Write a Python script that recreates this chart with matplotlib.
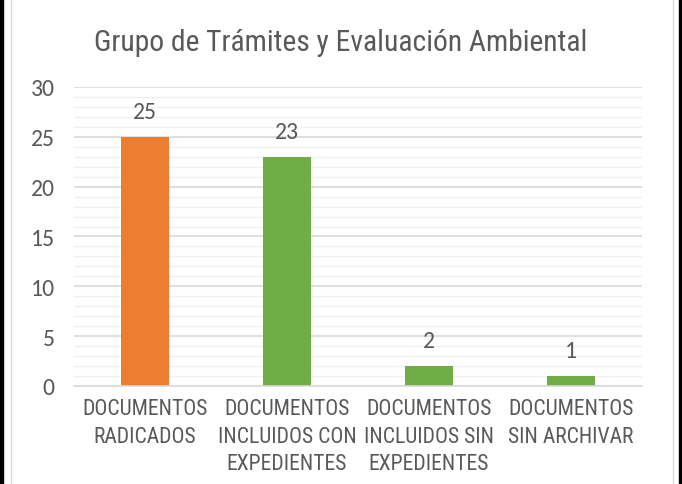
import matplotlib.pyplot as plt
from matplotlib.lines import Line2D
from matplotlib.patches import Rectangle
from matplotlib.ticker import MultipleLocator

categories = [
    "DOCUMENTOS\nRADICADOS",
    "DOCUMENTOS\nINCLUIDOS CON\nEXPEDIENTES",
    "DOCUMENTOS\nINCLUIDOS SIN\nEXPEDIENTES",
    "DOCUMENTOS\nSIN ARCHIVAR",
]
values = [25, 23, 2, 1]
colors = ["#ED7D31", "#70AD47", "#70AD47", "#70AD47"]

TEXT = "#595959"
NARROW = ["Roboto Condensed", "DejaVu Sans"]
NUMS = ["Carlito", "DejaVu Sans"]

fig = plt.figure(figsize=(6.82, 4.85), dpi=100)
ax = fig.add_axes([0.1085, 0.2021, 0.8325, 0.6165])

x = range(len(categories))
ax.bar(x, values, width=0.34, color=colors, zorder=3)
for xi, v in zip(x, values):
    ax.text(xi, v + 1.5, str(v), ha="center", va="bottom",
            fontsize=17, color=TEXT, family=NUMS)

ax.set_xlim(-0.5, len(categories) - 0.5)
ax.set_ylim(0, 30)
ax.yaxis.set_major_locator(MultipleLocator(5))
ax.yaxis.set_minor_locator(MultipleLocator(1))
ax.grid(axis="y", which="major", color="#D9D9D9", lw=1.2, zorder=0)
ax.grid(axis="y", which="minor", color="#F0F0F0", lw=1.0, zorder=0)
ax.set_axisbelow(True)

ax.set_xticks(list(x))
ax.set_xticklabels(categories, fontsize=15.6, color=TEXT, family=NARROW,
                   linespacing=1.4)
ax.tick_params(axis="x", length=0, pad=9)
ax.tick_params(axis="y", which="both", length=0, pad=14, labelsize=17,
               labelcolor=TEXT)
for lbl in ax.get_yticklabels():
    lbl.set_family(NUMS)

for s in ["top", "right", "left"]:
    ax.spines[s].set_visible(False)
ax.spines["bottom"].set_color("#D9D9D9")
ax.spines["bottom"].set_linewidth(1.2)
ax.spines["bottom"].set_zorder(4)

fig.text(0.5, 0.912, "Grupo de Trámites y Evaluación Ambiental",
         ha="center", va="center", fontsize=21.3, color=TEXT, family=NARROW)

# outer frame: black strips and thin grey chart border
fig.patches.append(Rectangle((0, 0), 3 / 682, 1, transform=fig.transFigure,
                             color="black", zorder=10))
fig.patches.append(Rectangle((1 - 3 / 682, 0), 3 / 682, 1,
                             transform=fig.transFigure, color="black", zorder=10))
for xf in (10.5 / 682, 672.5 / 682):
    fig.lines.append(Line2D([xf, xf], [0, 1], transform=fig.transFigure,
                            color="#D9D9D9", lw=1.0))

fig.savefig("out.png", dpi=100)
